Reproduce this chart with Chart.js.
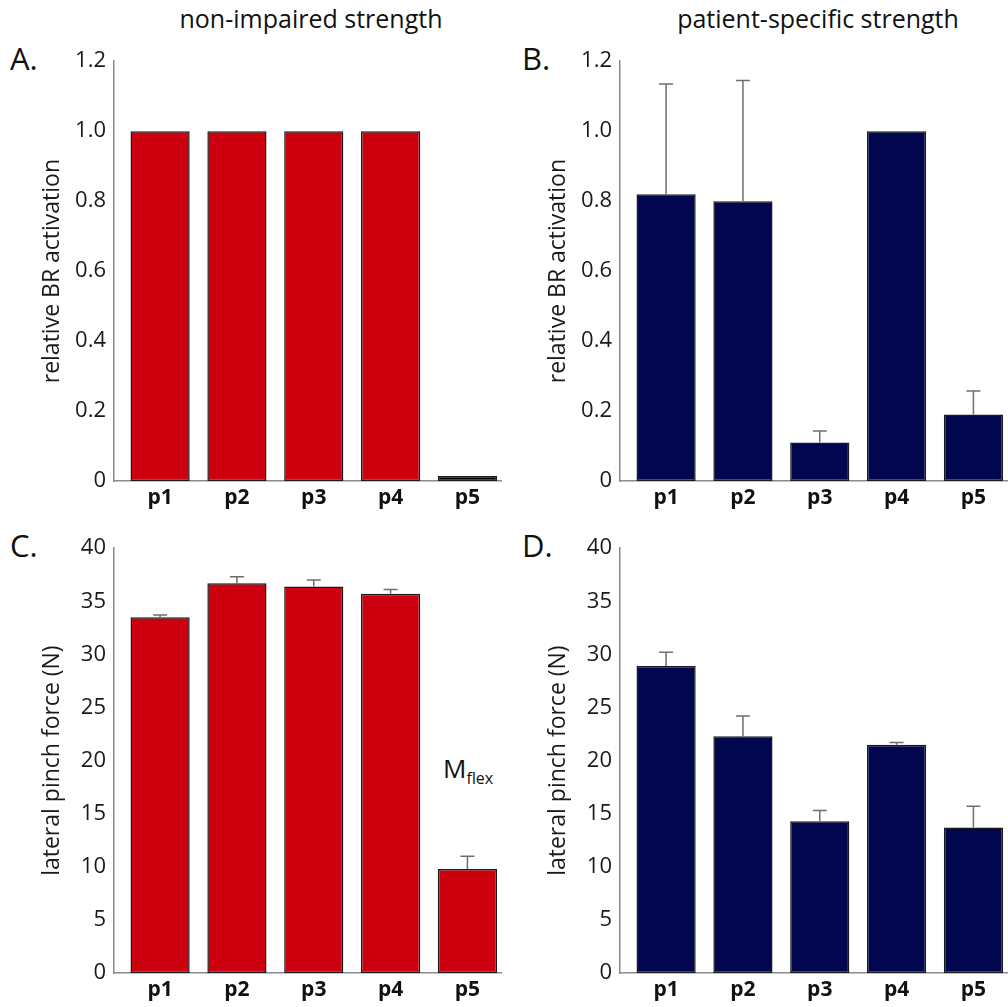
<!DOCTYPE html>
<html>
<head>
<meta charset="utf-8">
<script src="https://cdn.jsdelivr.net/npm/chart.js@4/dist/chart.umd.min.js"></script>
<style>
  html, body { margin: 0; padding: 0; background: #fff; overflow: hidden; }
  body { width: 1008px; height: 1007px; position: relative; font-family: "Open Sans", sans-serif; color: #111; }
  .panel { position: absolute; width: 502px; height: 480px; }
  .letter { position: absolute; font-size: 31px; }
  .coltitle { position: absolute; top: 1px; font-size: 25px; width: 440px; text-align: center; }
  .note { position: absolute; font-size: 26px; }
  .note sub { font-size: 16px; }
</style>
</head>
<body>
<div class="coltitle" style="left:91px">non-impaired strength</div>
<div class="coltitle" style="left:598px">patient-specific strength</div>
<div class="letter" style="left:10px; top:37px">A.</div>
<div class="letter" style="left:522px; top:37px">B.</div>
<div class="letter" style="left:10px; top:524px">C.</div>
<div class="letter" style="left:522px; top:524px">D.</div>
<div class="note" style="left:443px; top:750px">M<sub>flex</sub></div>

<div class="panel" style="left:0; top:40px"><canvas id="chart-a"></canvas></div>
<div class="panel" style="left:506px; top:40px"><canvas id="chart-b"></canvas></div>
<div class="panel" style="left:0; top:527px"><canvas id="chart-c"></canvas></div>
<div class="panel" style="left:506px; top:527px"><canvas id="chart-d"></canvas></div>

<script>
const patients = ["p1", "p2", "p3", "p4", "p5"];

// relative BR activation
const brNonImpaired = [1.0, 1.0, 1.0, 1.0, 0];
const brNonImpairedErr = [0, 0, 0, 0, 0];
const brPatient = [0.82, 0.80, 0.11, 1.0, 0.19];
const brPatientErr = [0.315, 0.345, 0.033, 0, 0.067];

// lateral pinch force (N)
const forceNonImpaired = [33.5, 36.7, 36.4, 35.7, 9.8];
const forceNonImpairedErr = [0.2, 0.6, 0.6, 0.4, 1.2];
const forcePatient = [28.9, 22.3, 14.3, 21.5, 13.7];
const forcePatientErr = [1.3, 1.9, 1.0, 0.2, 2.0];

const brTicks = [0, 0.2, 0.4, 0.6, 0.8, 1.0, 1.2];
const forceTicks = [0, 5, 10, 15, 20, 25, 30, 35, 40];

const RED = "#cc000f";
const NAVY = "#01064f";
const FONT = "'Open Sans', sans-serif";

const errorBars = {
  id: "errorBars",
  afterDatasetsDraw(chart) {
    const errs = chart.options.plugins.errorBars.errors;
    const meta = chart.getDatasetMeta(0);
    const yScale = chart.scales.y;
    const ctx = chart.ctx;
    ctx.save();
    ctx.strokeStyle = "#6e6e6e";
    ctx.lineWidth = 1.5;
    meta.data.forEach((bar, i) => {
      const v = chart.data.datasets[0].data[i].y;
      if (!errs[i]) return;
      const top = yScale.getPixelForValue(v + errs[i]);
      ctx.beginPath();
      ctx.moveTo(bar.x, bar.y);
      ctx.lineTo(bar.x, top);
      ctx.moveTo(bar.x - 7, top);
      ctx.lineTo(bar.x + 7, top);
      ctx.stroke();
    });
    ctx.restore();
  },
};

function makePanel(id, values, errors, color, yTicks, yTitle, xHeight) {
  new Chart(document.getElementById(id), {
    type: "bar",
    data: {
      datasets: [
        {
          data: values.map((v, i) => ({ x: i + 1, y: v })),
          backgroundColor: values.map((v) => (v === 0 ? "#000" : color)),
          borderColor: "#1a1a1a",
          borderWidth: 1.5,
          borderSkipped: false,
          barPercentage: 0.77,
          categoryPercentage: 1,
          minBarLength: 5,
        },
      ],
    },
    options: {
      responsive: true,
      maintainAspectRatio: false,
      animation: false,
      layout: { padding: { top: 21, right: 0, left: 0, bottom: 0 } },
      plugins: {
        legend: { display: false },
        tooltip: { enabled: false },
        errorBars: { errors },
      },
      scales: {
        x: {
          type: "linear",
          offset: false,
          min: 0.4,
          max: 5.45,
          grid: { display: false, drawTicks: false },
          border: { display: true, color: "#8a8a8a", width: 1.5 },
          afterBuildTicks: (s) => {
            s.ticks = patients.map((_, i) => ({ value: i + 1 }));
          },
          afterFit: (s) => {
            s.height = xHeight;
          },
          ticks: {
            padding: 4,
            color: "#111",
            font: { family: FONT, size: 21, weight: "bold" },
            callback: (v) => patients[v - 1] || "",
          },
        },
        y: {
          min: yTicks[0],
          max: yTicks[yTicks.length - 1],
          grid: { display: false, drawTicks: false },
          border: { display: true, color: "#8a8a8a", width: 1.5 },
          afterBuildTicks: (s) => {
            s.ticks = yTicks.map((v) => ({ value: v }));
          },
          afterFit: (s) => {
            s.width = 114;
          },
          ticks: {
            padding: 8,
            color: "#1a1a1a",
            font: { family: FONT, size: 22 },
            callback: (v) => (yTicks === brTicks && v !== 0 ? v.toFixed(1) : String(v)),
          },
          title: {
            display: true,
            text: yTitle,
            color: "#1a1a1a",
            font: { family: FONT, size: 23 },
            padding: { top: 39, bottom: 0 },
          },
        },
      },
    },
    plugins: [errorBars],
  });
}

makePanel("chart-a", brNonImpaired, brNonImpairedErr, RED, brTicks, "relative BR activation", 39);
makePanel("chart-b", brPatient, brPatientErr, NAVY, brTicks, "relative BR activation", 39);
makePanel("chart-c", forceNonImpaired, forceNonImpairedErr, RED, forceTicks, "lateral pinch force (N)", 34);
makePanel("chart-d", forcePatient, forcePatientErr, NAVY, forceTicks, "lateral pinch force (N)", 34);
</script>
</body>
</html>
